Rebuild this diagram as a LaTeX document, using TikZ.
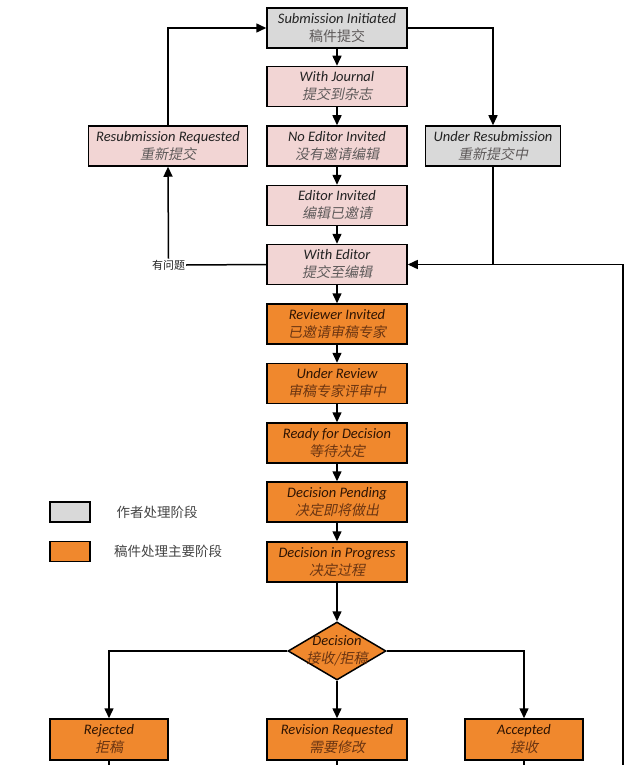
\documentclass[tikz,border=0pt]{standalone}
\usepackage{fontspec}
\setmainfont{Carlito}
\newfontfamily\zhsl{Noto Sans CJK SC}[FakeSlant=0.2]
\newfontfamily\zhup{Noto Sans CJK SC}
\usetikzlibrary{arrows.meta,shapes.geometric}
\definecolor{gfill}{HTML}{D9D9D9}
\definecolor{pfill}{HTML}{F2D5D4}
\definecolor{ofill}{HTML}{F0882D}
\definecolor{ptxt}{HTML}{222222}
\definecolor{pzh}{HTML}{5E5A5A}
\definecolor{otxt}{HTML}{2E1403}
\definecolor{ozh}{HTML}{6B3512}
\definecolor{lgtxt}{HTML}{444444}
\newcommand\ptl[2]{{\color{ptxt}\itshape #1}\\{\zhsl\fontsize{14}{18}\selectfont\color{pzh}#2}}
\newcommand\ptu[2]{{\color{ptxt}\itshape #1}\\{\zhup\fontsize{14}{18}\selectfont\color{pzh}#2}}
\newcommand\otl[2]{{\color{otxt}\itshape #1}\\{\zhsl\fontsize{14}{18}\selectfont\color{ozh}#2}}
\begin{document}
\begin{tikzpicture}[x=1pt,y=-1pt,
  box/.style={draw=black, line width=1.5pt, minimum width=140pt, minimum height=40pt,
    inner sep=0pt, align=center, font=\fontsize{14.5}{18}\selectfont},
  gbox/.style={box, fill=gfill},
  pbox/.style={box, fill=pfill},
  obox/.style={box, fill=ofill},
  arr/.style={line width=1.5pt, -{Triangle[length=10pt,width=9pt]}},
  ln/.style={line width=1.5pt},
  legtxt/.style={font=\zhup\fontsize{13.5}{16}\selectfont, text=lgtxt, inner sep=0pt}]
\useasboundingbox (0,0) rectangle (634,765);
\fill[white] (0,0) rectangle (634,765);

% main column
\node[gbox] (si) at (337,28) {\ptu{Submission Initiated}{稿件提交}};
\node[pbox] (wj) at (337,86.5) {\ptl{With Journal}{提交到杂志}};
\node[pbox] (nei) at (337,146) {\ptl{No Editor Invited}{没有邀请编辑}};
\node[pbox] (ei) at (337,205.5) {\ptl{Editor Invited}{编辑已邀请}};
\node[pbox] (we) at (337,264.5) {\ptl{With Editor}{提交至编辑}};
\node[obox] (ri) at (337,324) {\otl{Reviewer Invited}{已邀请审稿专家}};
\node[obox] (ur) at (337,383.5) {\otl{Under Review}{审稿专家评审中}};
\node[obox] (rfd) at (337,443) {\otl{Ready for Decision}{等待决定}};
\node[obox] (dp) at (337,502) {\otl{Decision Pending}{决定即将做出}};
\node[obox] (dip) at (337,562) {\otl{Decision in Progress}{决定过程}};

% side boxes
\node[pbox, minimum width=159pt] (rr) at (168,146) {\ptl{Resubmission Requested}{重新提交}};
\node[gbox, minimum width=135pt] (urs) at (493,146) {\ptl{Under Resubmission}{重新提交中}};

% decision
\node[draw=black, line width=1.5pt, fill=ofill, diamond, minimum width=98pt, minimum height=58pt, inner sep=0pt] (dec) at (337,651) {};
\node[align=center, inner sep=0pt, font=\fontsize{14.5}{18}\selectfont] (dect) at (337,651) {\otl{Decision}{接收/拒稿}};

% outcomes
\node[obox, minimum width=118pt, minimum height=41pt] (rej) at (109,739.5) {\otl{Rejected}{拒稿}};
\node[obox, minimum height=41pt] (rev) at (337,739.5) {\otl{Revision Requested}{需要修改}};
\node[obox, minimum width=118pt, minimum height=41pt] (acc) at (524,739.5) {\otl{Accepted}{接收}};

% label
\node[font=\zhup\fontsize{11}{13}\selectfont, text=ptxt, inner sep=1pt] (q) at (168.5,265) {有问题};

% legend
\node[draw=black, line width=1.5pt, fill=gfill, minimum width=40pt, minimum height=20pt, inner sep=0pt] (lg1) at (70,512) {};
\node[draw=black, line width=1.5pt, fill=ofill, minimum width=40pt, minimum height=20pt, inner sep=0pt] (lg2) at (70,551.5) {};
\node[legtxt] (lt1) at (157,512) {作者处理阶段};
\node[legtxt] (lt2) at (168,551.5) {稿件处理主要阶段};

% free ends
\coordinate (rb) at (623,766);
\coordinate (b1) at (109,766);
\coordinate (b2) at (337,766);
\coordinate (b3) at (524,766);

% connectors
\draw[arr] (si) -- (wj);
\draw[arr] (wj) -- (nei);
\draw[arr] (nei) -- (ei);
\draw[arr] (ei) -- (we);
\draw[arr] (we) -- (ri);
\draw[arr] (ri) -- (ur);
\draw[arr] (ur) -- (rfd);
\draw[arr] (rfd) -- (dp);
\draw[arr] (dp) -- (dip);
\draw[arr] (dip) -- (dec.north);
\draw[arr] (rr.north) |- (si.west);
\draw[arr] (si.east) -| (urs.north);
\draw[ln] (urs.south) -- (urs.south |- we.east);
\draw[arr] (rb) |- (we.east);
\draw[ln] (we.west) -- (q.east);
\draw[arr] (q.north) -- (rr.south);
\draw[arr] (dec.west) -| (rej.north);
\draw[arr] (dec.east) -| (acc.north);
\draw[arr] (dec.south) -- (rev.north);
\draw[ln] (rej.south) -- (b1);
\draw[ln] (rev.south) -- (b2);
\draw[ln] (acc.south) -- (b3);
\end{tikzpicture}
\end{document}
